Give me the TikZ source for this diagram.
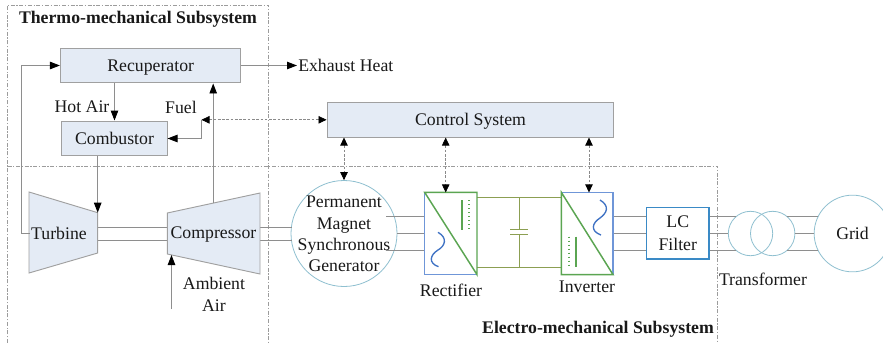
\documentclass[tikz,border=0pt]{standalone}
\usepackage{fontspec}
\setmainfont{Liberation Serif}
\usetikzlibrary{arrows.meta,calc}
\definecolor{fillb}{HTML}{E4EBF5}
\definecolor{lineg}{HTML}{8E8E8E}
\definecolor{edgeg}{HTML}{A0A0A0}
\definecolor{dashg}{HTML}{8A8A8A}
\definecolor{regiong}{HTML}{9C9C9C}
\definecolor{teal}{HTML}{8FC0D0}
\definecolor{conv}{HTML}{5BA552}
\definecolor{convb}{HTML}{6F96D8}
\definecolor{sineb}{HTML}{3F72C4}
\definecolor{olive}{HTML}{8C9F52}
\definecolor{lcb}{HTML}{3A8AC6}
\tikzset{
  lbl/.style={inner sep=0pt,font=\fontsize{13.3pt}{16pt}\selectfont,text=black!90,align=center},
  ttl/.style={inner sep=0pt,font=\fontsize{13.3pt}{16pt}\selectfont\bfseries,text=black!90},
  blockbox/.style={draw=edgeg,fill=fillb,line width=0.75pt,inner sep=0pt,text depth=0pt,font=\fontsize{13.3pt}{16pt}\selectfont,text=black!90},
  flow/.style={draw=lineg,line width=0.7pt},
  flowarr/.style={flow,-{Triangle[length=7.5pt,width=5.6pt,color=black]}},
  ctrl/.style={draw=dashg,line width=0.5pt,dash pattern=on 2pt off 1.2pt,{Triangle[length=6pt,width=5.6pt,color=black]}-{Triangle[length=6pt,width=5.6pt,color=black]}},
  region/.style={draw=regiong,line width=0.5pt,dash pattern=on 3pt off 1.2pt on 1pt off 1.2pt},
  ring/.style={draw=teal,line width=0.6pt,circle,inner sep=0pt},
  dcbus/.style={draw=olive,line width=0.8pt},
  capplate/.style={draw=olive,line width=0.6pt},
  symg/.style={draw=conv,line width=1pt},
  syms/.style={draw=sineb,line width=1pt}
}
\begin{document}
\begin{tikzpicture}[x=0.75pt,y=-0.75pt]
\useasboundingbox (0,0) rectangle (883,343);
\fill[white] (0,0) rectangle (883,343);
% regions
\draw[region] (7.5,343) -- (7.5,5) -- (268.5,5) -- (268.5,343);
\draw[region] (7.5,166) -- (717.5,166) -- (717.5,343);
\node[ttl] (t1) at (138,19.5) {Thermo-mechanical Subsystem};
\node[ttl] (t2) at (598,329.5) {Electro-mechanical Subsystem};
% shafts first
\coordinate (tL) at (97.7,227);
\coordinate (tL2) at (97.7,240.3);
\coordinate (cL) at (167.3,227);
\coordinate (cL2) at (167.3,240.3);
\coordinate (cR) at (260,227);
\coordinate (cR2) at (260,240.3);
\node[ring,minimum size=79.5pt,fill=white] (gen) at (344,233.5) {};
\coordinate (gL) at (292.2,227);
\coordinate (gL2) at (292.2,240.3);
\draw[flow] (tL)--(cL) (tL2)--(cL2) (cR)--(gL) (cR2)--(gL2);
% blocks
\node[blockbox,minimum width=135.4pt,minimum height=26.2pt] (rec) at (150.7,65.5) {Recuperator};
\node[blockbox,minimum width=78.8pt,minimum height=26.2pt] (comb) at (114.5,138.5) {Combustor};
\node[blockbox,minimum width=215.2pt,minimum height=25.9pt] (ctl) at (470.5,119.8) {Control System};
% turbine, compressor
\draw[draw=edgeg,fill=fillb,line width=0.7pt] (29,192) -- (97.7,212.7) -- (97.7,253) -- (29,273) -- cycle;
\draw[draw=edgeg,fill=fillb,line width=0.7pt] (167.3,213) -- (260,193) -- (260,274) -- (167.3,254) -- cycle;
\node[lbl] (turb) at (59,233.5) {Turbine};
\node[lbl] (comp) at (213.5,235) {Compressor};
% free ends
\coordinate (turbL) at (30,233.5);
\coordinate (turbTop) at (97.7,212.7);
\coordinate (compTop) at (213.2,203);
\coordinate (loopx) at (21.5,0);
\coordinate (hot) at (114.5,0);
\coordinate (ambTop) at (171.5,255);
\coordinate (ambBot) at (171.5,309);
\coordinate (fuelJ) at (201.5,119.8);
\coordinate (exh) at (297,65.5);
% thermo flows
\draw[flowarr] (turbL) -- (loopx |- turbL) -- (loopx |- rec.west) -- (rec.west);
\draw[flowarr] (rec.east) -- (exh);
\draw[flowarr] (hot |- rec.south) -- (hot |- comb.north);
\draw[flowarr] (compTop) -- (compTop |- rec.south);
\draw[flowarr] (turbTop |- comb.south) -- (turbTop);
\draw[flowarr] (ambBot) -- (ambTop);
\draw[flowarr] (fuelJ) -- (fuelJ |- comb.east) -- (comb.east);
\draw[ctrl] (fuelJ) -- (ctl.west);
% labels
\node[lbl,anchor=west] (exht) at (298,65.5) {Exhaust Heat};
\node[lbl] (hota) at (82,107) {Hot Air};
\node[lbl] (fuel) at (181,107) {Fuel};
\node[lbl] (amb) at (214,294.5) {Ambient\\Air};
% generator
\node[lbl] (gent) at (344,234) {Permanent\\Magnet\\Synchronous\\Generator};
% rectifier and inverter
\node[inner sep=0pt,minimum width=38.8pt,minimum height=61.2pt] (rect) at (450.85,233.5) {};
\node[inner sep=0pt,minimum width=38.3pt,minimum height=61.2pt] (inv) at (587.2,233.5) {};
\coordinate (dcT) at (0,197.7);
\coordinate (dcB) at (0,267.3);
\coordinate (capx) at (519,0);
\coordinate (capT) at (519,229);
\coordinate (capB) at (519,234);
\draw[dcbus] (rect.east |- dcT) -- (inv.west |- dcT);
\draw[dcbus] (rect.east |- dcB) -- (inv.west |- dcB);
\draw[capplate] (capx |- dcT) -- (capT) (capB) -- (capx |- dcB);
\draw[capplate] (510,229) -- (528,229) (510,234) -- (528,234);
% three-phase lines
\foreach \yy/\nn in {216.7/a,233.5/b,250.3/c}{
  \coordinate (p\nn) at (0,\yy);
}
\draw[flow] (gen.center |- pa) ++(42,0) -- (rect.west |- pa);
\draw[flow] (gen.east |- pb) -- (rect.west |- pb);
\draw[flow] (gen.center |- pc) ++(42,0) -- (rect.west |- pc);
% LC
\node[draw=lcb,fill=white,line width=0.9pt,inner sep=0pt,minimum width=46.9pt,minimum height=38.5pt,lbl] (lc) at (677.8,233.4) {LC\\[1pt]Filter};
\foreach \nn in {a,b,c}{ \draw[flow] (inv.east |- p\nn) -- (lc.west |- p\nn); }
% transformer and grid
\node[ring,minimum size=33.3pt] (tr1) at (750.5,233.5) {};
\node[ring,minimum size=33.3pt] (tr2) at (772.7,233.5) {};
\node[ring,minimum size=57.5pt] (grid) at (852.5,233.5) {};
\node[lbl] (gridt) at (852.5,233) {Grid};
\coordinate (t1a) at (736.2,216.7);
\coordinate (t1c) at (736.2,250.3);
\coordinate (t2a) at (787,216.7);
\coordinate (t2c) at (787,250.3);
\coordinate (ga) at (818,216.7);
\coordinate (gc) at (818,250.3);
\draw[flow] (lc.east |- pa) -- (t1a);
\draw[flow] (lc.east |- pb) -- (tr1.west);
\draw[flow] (lc.east |- pc) -- (t1c);
\draw[flow] (tr2.east) -- (grid.west);
\draw[flow] (t2a) -- (ga) (t2c) -- (gc);
% converter outlines
\draw[convb,line width=1.1pt] (rect.north west) -- (rect.south west) -- (rect.south east);
\draw[conv,line width=1.1pt] (rect.north west) -- (rect.north east) -- (rect.south east) -- cycle;
\draw[convb,line width=1.1pt] (inv.north west) -- (inv.north east) -- (inv.south east);
\draw[conv,line width=1.1pt] (inv.north west) -- (inv.south west) -- (inv.south east) -- cycle;
% symbols
\draw[symg] (462,200) -- (462,230);
\draw[symg,dotted,line width=1.1pt] (469,200) -- (469,230);
\draw[syms] (438,232.3) .. controls (448,238) and (445,246) .. (438,250) .. controls (430,255) and (428,263) .. (438.5,266.7);
\draw[symg] (576,236.7) -- (576,266.7);
\draw[symg,dotted,line width=1.1pt] (569,236.7) -- (569,266.7);
\draw[syms] (600,200) .. controls (610,206) and (607,213) .. (600,218) .. controls (592,223) and (590,231) .. (601,235);
% control arrows
\coordinate (c1) at (344,0);
\coordinate (c2) at (445.7,0);
\coordinate (c3) at (589,0);
\draw[ctrl] (c1 |- ctl.south) -- (gen.north);
\draw[ctrl] (c2 |- ctl.south) -- (c2 |- rect.north);
\draw[ctrl] (c3 |- ctl.south) -- (c3 |- inv.north);
% converter and transformer labels
\node[lbl] (rectt) at (451,290) {Rectifier};
\node[lbl] (invt) at (587,286.5) {Inverter};
\node[lbl] (trt) at (763,279.5) {Transformer};
\end{tikzpicture}
\end{document}
